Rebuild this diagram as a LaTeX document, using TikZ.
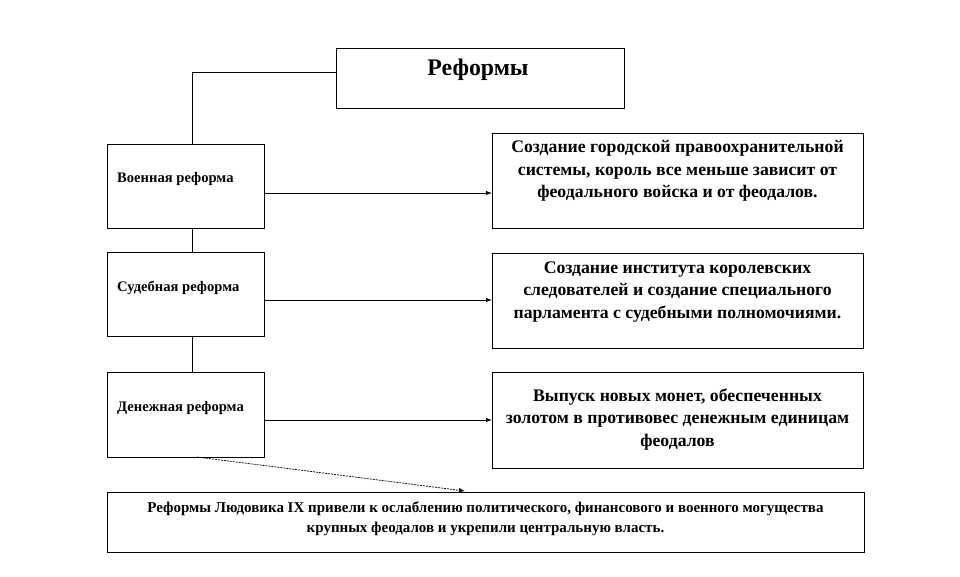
\documentclass[tikz,border=0pt]{standalone}
\usepackage{fontspec}
\setmainfont{Liberation Serif}
\usetikzlibrary{arrows.meta}
\begin{document}
\begin{tikzpicture}[x=1pt,y=-1pt,
  box/.style={draw, line width=1pt, inner sep=0pt, outer sep=0pt, anchor=north west},
  lbox/.style={box, minimum width=157pt, minimum height=84pt},
  rbox/.style={box, minimum width=371pt, minimum height=95pt},
  ltext/.style={anchor=west, inner sep=0pt, font=\fontsize{14.6}{16}\selectfont\bfseries},
  rtext/.style={anchor=north, inner sep=0pt, align=center, font=\fontsize{17.7}{22.5}\selectfont\bfseries},
  conn/.style={line width=1pt},
  arr/.style={line width=1pt, -{Latex[length=6pt,width=4.5pt]}}]
\useasboundingbox (0,0) rectangle (960,576);
% title
\node[box, minimum width=288pt, minimum height=60pt] (t) at (336,48) {};
\node[inner sep=0pt, font=\fontsize{23.8}{28}\selectfont\bfseries] (tt) at (478,70) {Реформы};
% left boxes
\node[lbox] (v1) at (107,144) {};
\node[lbox] (v2) at (107,252) {};
\node[lbox, minimum height=85pt] (v3) at (107,372) {};
\node[ltext] (v1t) at (117,179) {Военная реформа};
\node[ltext] (v2t) at (117,288) {Судебная реформа};
\node[ltext] (v3t) at (117,408) {Денежная реформа};
% right boxes
\node[rbox] (r1) at (492,133) {};
\node[rbox] (r2) at (492,253) {};
\node[rbox, minimum height=96pt] (r3) at (492,372) {};
\node[rtext] (r1t) at (677.5,140.4) {Создание городской правоохранительной\\системы, король все меньше зависит от\\феодального войска и от феодалов.};
\node[rtext] (r2t) at (677.5,261.4) {Создание института королевских\\следователей и создание специального\\парламента с судебными полномочиями.};
\node[rtext] (r3t) at (677.5,388.4) {Выпуск новых монет, обеспеченных\\золотом в противовес денежным единицам\\феодалов};
% bottom box
\node[box, minimum width=757pt, minimum height=60pt] (b) at (107,492) {};
\node[anchor=north, inner sep=0pt, align=center, font=\fontsize{15}{20}\selectfont\bfseries] (bt) at (485.5,502) {Реформы Людовика IX привели к ослаблению политического, финансового и военного могущества\\крупных феодалов и укрепили центральную власть.};
% connectors
\draw[conn] ([yshift=6pt]t.west) -| ([xshift=6.5pt]v1.north);
\draw[conn] ([xshift=6.5pt]v1.south) -- ([xshift=6.5pt]v2.north);
\draw[conn] ([xshift=6.5pt]v2.south) -- ([xshift=6.5pt]v3.north);
\draw[arr] ([yshift=-7pt]v1.east) coordinate (a1) -- (a1 -| r1.west);
\draw[arr] ([yshift=-6pt]v2.east) coordinate (a2) -- (a2 -| r2.west);
\draw[arr] ([yshift=-5.5pt]v3.east) coordinate (a3) -- (a3 -| r3.west);
\draw[line width=0.7pt, dash pattern=on 2pt off 1pt, -{Latex[length=6pt,width=4.5pt]}] ([xshift=11.5pt]v3.south) -- ([xshift=-20.5pt,yshift=1pt]b.north);
\end{tikzpicture}
\end{document}
